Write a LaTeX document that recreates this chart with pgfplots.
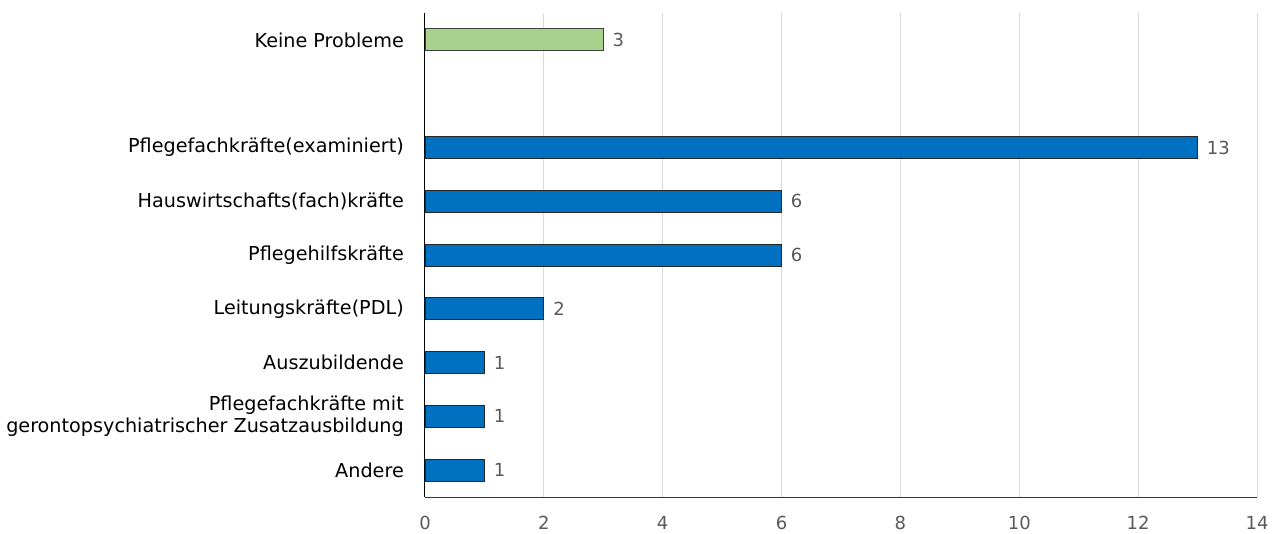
\documentclass[border=0pt]{standalone}
\usepackage{pgfplots}
\pgfplotsset{compat=1.18}
\usepackage{fontspec}
\setmainfont{DejaVu Sans}
\definecolor{barblue}{HTML}{0070C0}
\definecolor{bargreen}{HTML}{A9D18E}
\definecolor{txtgray}{HTML}{595959}
\definecolor{gridgray}{HTML}{D9D9D9}
\begin{document}
\begin{tikzpicture}
\useasboundingbox (0,0) rectangle (1281bp,534bp);
\begin{axis}[
  at={(425bp,37bp)}, anchor=south west,
  scale only axis,
  width=832bp, height=484bp,
  xmin=0, xmax=14, ymin=-0.5, ymax=8.5,
  xtick={0,2,...,14},
  ytick={0,1,2,3,4,5,6,8},
  yticklabels={Andere,{\raisebox{0pt}{}Pflegefachkräfte mit\\gerontopsychiatrischer Zusatzausbildung},Auszubildende,Leitungskräfte(PDL),Pflegehilfskräfte,Hauswirtschafts(fach)kräfte,Pflegefachkräfte(examiniert),Keine Probleme},
  axis x line=bottom, axis y line=left,
  axis line style={-, line width=1bp, black},
  x axis line style={black!80},
  major tick length=0pt,
  xmajorgrids, major grid style={gridgray, line width=1bp},
  /pgf/number format/assume math mode=true,
  xticklabel style={font=\fontsize{18bp}{20bp}\selectfont, text=txtgray, inner sep=0pt, yshift=-19bp},
  yticklabel style={font=\fontsize{19.2bp}{22bp}\selectfont, align=right, inner sep=0pt, xshift=-21bp, text=black},
  xbar, bar width=22bp, bar shift=0pt,
  nodes near coords,
  every node near coord/.append style={font=\fontsize{18bp}{20bp}\selectfont, text=txtgray, anchor=west, inner sep=0pt, xshift=9bp},
  clip=false,
]
\addplot[fill=barblue, draw=black!85, line width=0.8bp] coordinates {
 (1,0) (1,1) (1,2) (2,3) (6,4) (6,5) (13,6)
};
\addplot[fill=bargreen, draw=black!75, line width=0.8bp] coordinates {
 (3,8)
};
\end{axis}
\end{tikzpicture}
\end{document}
